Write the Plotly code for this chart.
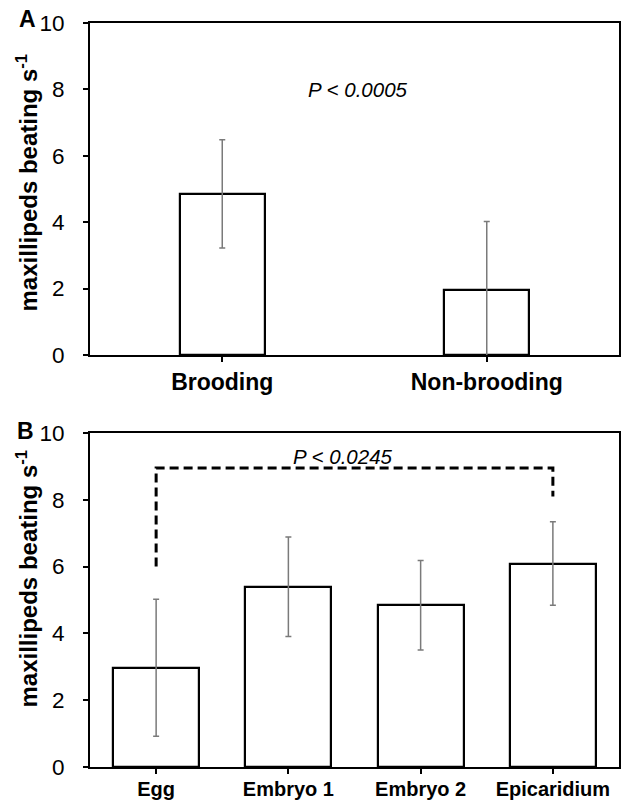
import plotly.graph_objects as go

# Panel A data
cats_a = ["Brooding", "Non-brooding"]
vals_a = [4.85, 1.97]
err_a = [1.63, 2.05]

# Panel B data
cats_b = ["Egg", "Embryo 1", "Embryo 2", "Epicaridium"]
vals_b = [2.97, 5.40, 4.84, 6.09]
err_b = [2.05, 1.49, 1.34, 1.25]

# Significance bracket (panel B)
bracket_x = ["Egg", "Egg", "Epicaridium", "Epicaridium"]
bracket_y = [6.0, 8.95, 8.95, 8.1]

y_ticks = [0, 2, 4, 6, 8, 10]
y_title = "<b>maxillipeds beating s<sup>-1</sup></b>"
p_text_a = "P < 0.0005"
p_text_b = "P < 0.0245"

FONT = "Liberation Sans, Arial, sans-serif"

fig = go.Figure()

fig.add_trace(go.Bar(
    x=cats_a, y=vals_a, width=0.32, xaxis="x", yaxis="y",
    marker=dict(color="white", line=dict(color="black", width=2.2)),
    error_y=dict(type="data", array=err_a, visible=True, color="#7a7a7a", thickness=1.5, width=3),
    showlegend=False))

fig.add_trace(go.Bar(
    x=cats_b, y=vals_b, width=0.65, xaxis="x2", yaxis="y2",
    marker=dict(color="white", line=dict(color="black", width=2.2)),
    error_y=dict(type="data", array=err_b, visible=True, color="#7a7a7a", thickness=1.5, width=3),
    showlegend=False))

fig.add_trace(go.Scatter(
    x=bracket_x, y=bracket_y, mode="lines", xaxis="x2", yaxis="y2",
    line=dict(color="black", width=3, dash="9px,5px"),
    showlegend=False, hoverinfo="skip"))

axis_common = dict(showline=True, linecolor="black", linewidth=2, mirror=True,
                   showgrid=False, zeroline=False, ticks="outside", tickcolor="black",
                   tickwidth=1.5, ticklen=5, automargin=False)

yaxis_common = dict(range=[0, 10], tickvals=y_ticks, ticklabelstandoff=14,
                    tickfont=dict(family=FONT, size=22.5, color="black"),
                    **axis_common)

fig.update_layout(
    width=624, height=801,
    margin=dict(l=90, r=5, t=23, b=34),
    paper_bgcolor="white", plot_bgcolor="white",
    bargap=0,
    xaxis=dict(domain=[0, 1], anchor="y", range=[-0.5, 1.5],
               tickvals=cats_a, ticktext=["<b>%s</b>" % c for c in cats_a],
               tickfont=dict(family=FONT, size=23, color="black"), **axis_common),
    yaxis=dict(domain=[0.5538, 1.0], anchor="x", **yaxis_common),
    xaxis2=dict(domain=[0, 1], anchor="y2", range=[-0.5, 3.5],
                tickvals=cats_b, ticktext=["<b>%s</b>" % c for c in cats_b],
                ticklabelstandoff=-2,
                tickfont=dict(family=FONT, size=20, color="black"), **axis_common),
    yaxis2=dict(domain=[0, 0.4489], anchor="x2", **yaxis_common),
)

# y-axis titles
for ty in (0.785, 0.2527):
    fig.add_annotation(text=y_title, textangle=-90, xref="paper", yref="paper",
                       x=-0.12, y=ty, xanchor="center", yanchor="middle",
                       showarrow=False, font=dict(family=FONT, size=24, color="black"))

fig.add_annotation(text="<i>%s</i>" % p_text_a, xref="x domain", yref="y", x=0.507, y=8.0,
                   showarrow=False, font=dict(family=FONT, size=20.5, color="black"))
fig.add_annotation(text="<i>%s</i>" % p_text_b, xref="x2 domain", yref="y2", x=0.478, y=9.3,
                   showarrow=False, font=dict(family=FONT, size=20.5, color="black"))

fig.add_annotation(text="<b>A</b>", xref="paper", yref="paper", x=-0.118, y=1.0054,
                   xanchor="center", yanchor="middle",
                   showarrow=False, font=dict(family=FONT, size=23, color="black"))
fig.add_annotation(text="<b>B</b>", xref="paper", yref="paper", x=-0.122, y=0.4516,
                   xanchor="center", yanchor="middle",
                   showarrow=False, font=dict(family=FONT, size=23, color="black"))

fig.write_html("out.html", config={"displayModeBar": False},
               post_script="document.body.style.margin='0';document.body.style.overflow='hidden';")
